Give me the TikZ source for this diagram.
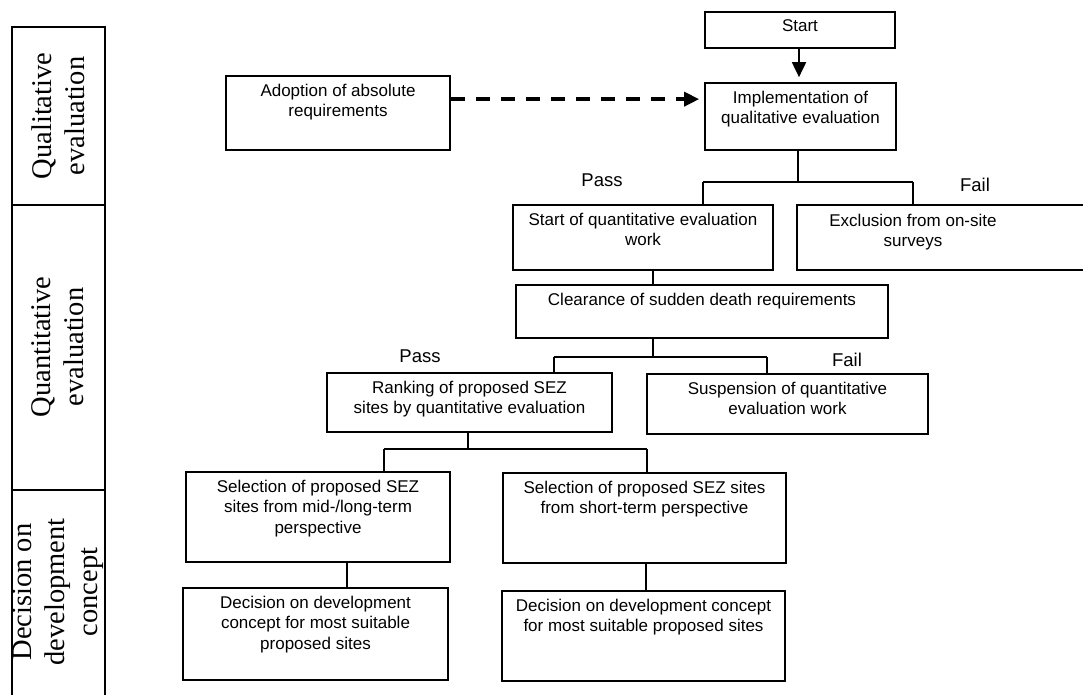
\documentclass[tikz,border=0pt]{standalone}
\usepackage{fontspec}
\setmainfont{Liberation Sans}
\newfontfamily\serifband{Liberation Serif}
\usetikzlibrary{arrows.meta,calc,fit}
\newcommand{\flowbox}[6]{%
  \coordinate (#1a) at (#2,#3);
  \coordinate (#1b) at (#4,#5);
  \node[box, fit=(#1a)(#1b)] (#1) {};
  \node[txt] (#1t) at ([yshift=-8.5pt]#1.north) {#6};
}
\begin{document}
\begin{tikzpicture}[x=1pt,y=-1pt,
  box/.style={draw, line width=1.7pt, inner sep=0pt, rectangle},
  txt/.style={font=\fontsize{17}{20.5}\selectfont, align=center, inner sep=0pt, anchor=north},
  lbl/.style={font=\fontsize{18.5}{22}\selectfont, inner sep=0pt, anchor=base},
  band/.style={font=\serifband\fontsize{28.5}{33}\selectfont, align=center, rotate=90, inner sep=0pt},
  conn/.style={line width=1.9pt},
  tip/.style={-{Triangle[length=15pt,width=14pt]}, shorten >=5pt}
]
\useasboundingbox (0,0) rectangle (1083,695);
\clip (0,0) rectangle (1083,695);

% left bands
\draw[line width=1.9pt] (12,700) -- (12,27) -- (105,27) -- (105,700);
\draw[line width=1.9pt] (12,205) -- (105,205);
\draw[line width=1.9pt] (12,490) -- (105,490);
\node[band] (q1) at (58,116) {Qualitative\\evaluation};
\node[band] (q2) at (58,347) {Quantitative\\evaluation};
\node[band] (q3) at (58,592) {Decision on\\development\\concept};

% boxes
\flowbox{adopt}{226}{76}{450}{150}{Adoption of absolute\\requirements}
\flowbox{start}{705}{12}{895}{48}{Start}
\flowbox{impl}{705}{83}{896}{150}{Implementation of\\qualitative evaluation}
\flowbox{squant}{513}{205}{773}{270}{Start of quantitative evaluation\\work}
\coordinate (exa) at (797,205);
\coordinate (exb) at (1100,270);
\node[box, fit=(exa)(exb)] (excl) {};
\node[txt] (exclt) at (913,213.5) {Exclusion from on-site\\surveys};
\flowbox{clear}{516}{285}{888}{338}{Clearance of sudden death requirements}
\flowbox{rank}{327}{373}{612}{432}{Ranking of proposed SEZ\\sites by quantitative evaluation}
\flowbox{susp}{647}{374}{928}{434}{Suspension of quantitative\\evaluation work}
\flowbox{selA}{186}{472}{450}{562}{Selection of proposed SEZ\\sites from mid-/long-term\\perspective}
\flowbox{selB}{503}{473}{786}{563}{Selection of proposed SEZ sites\\from short-term perspective}
\flowbox{decA}{183}{588}{448}{680}{Decision on development\\concept for most suitable\\proposed sites}
\flowbox{decB}{502}{591}{785}{681}{Decision on development concept\\for most suitable proposed sites}

% labels
\node[lbl] (pass1) at (602,186) {Pass};
\node[lbl] (fail1) at (975,191) {Fail};
\node[lbl] (pass2) at (420,362) {Pass};
\node[lbl] (fail2) at (847,366) {Fail};

% connectors
\coordinate (c0) at (799,0);
\draw[conn, tip] (start.south -| c0) -- (impl.north -| c0);
\draw[line width=3.5pt, dash pattern=on 14pt off 11pt, tip]
  ($(adopt.north east)+(0,24)$) coordinate (d0) -- (d0 -| impl.west);

\coordinate (m1) at (798,182);
\coordinate (p1) at (703,182);
\coordinate (f1) at (913,182);
\draw[conn] (impl.south -| m1) -- (m1);
\draw[conn] (p1) -- (f1);
\draw[conn] (p1) -- (p1 |- squant.north);
\draw[conn] (f1) -- (f1 |- excl.north);

\coordinate (c1) at (653,0);
\draw[conn] (squant.south -| c1) -- (clear.north -| c1);

\coordinate (p2) at (554,357);
\coordinate (f2) at (767,357);
\draw[conn] (clear.south -| c1) -- (c1 |- p2);
\draw[conn] (p2) -- (f2);
\draw[conn] (p2) -- (p2 |- rank.north);
\draw[conn] (f2) -- (f2 |- susp.north);

\coordinate (c2) at (468,0);
\coordinate (p3) at (384,449);
\coordinate (f3) at (647,449);
\draw[conn] (rank.south -| c2) -- (c2 |- p3);
\draw[conn] (p3) -- (f3);
\draw[conn] (p3) -- (p3 |- selA.north);
\draw[conn] (f3) -- (f3 |- selB.north);

\coordinate (c3) at (347,0);
\draw[conn] (selA.south -| c3) -- (decA.north -| c3);
\coordinate (c4) at (646,0);
\draw[conn] (selB.south -| c4) -- (decB.north -| c4);
\end{tikzpicture}
\end{document}
